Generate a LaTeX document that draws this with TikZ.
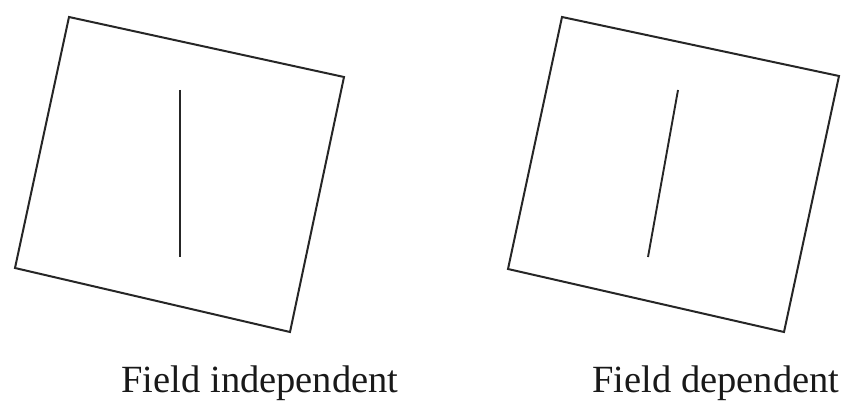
\documentclass[tikz,border=0pt]{standalone}
\usepackage{fontspec}
\setmainfont{Liberation Serif}
\begin{document}
\begin{tikzpicture}[x=1pt,y=-1pt,
  frame/.style={draw=black!85,line width=2pt,line join=miter},
  needle/.style={draw=black!85,line width=1.9pt},
  caption/.style={anchor=base,inner sep=0pt,font=\fontsize{38.5}{40}\selectfont,text=black!90}]
\useasboundingbox (0,0) rectangle (845,401);
% left square
\coordinate (a1) at (69,17);
\coordinate (a2) at (344,77);
\coordinate (a3) at (290,332);
\coordinate (a4) at (15,268);
\draw[frame] (a1) -- (a2) -- (a3) -- (a4) -- cycle;
\coordinate (l1) at (180,90);
\coordinate (l2) at (180,257);
\draw[needle] (l1) -- (l2);
\node[caption] (t1) at (260,392) {Field independent};
% right square
\coordinate (b1) at (562,17);
\coordinate (b2) at (839,76);
\coordinate (b3) at (784,332);
\coordinate (b4) at (508,269);
\draw[frame] (b1) -- (b2) -- (b3) -- (b4) -- cycle;
\coordinate (m1) at (678,90);
\coordinate (m2) at (648,257);
\draw[needle] (m1) -- (m2);
\node[caption] (t2) at (716,392) {Field dependent};
\end{tikzpicture}
\end{document}
